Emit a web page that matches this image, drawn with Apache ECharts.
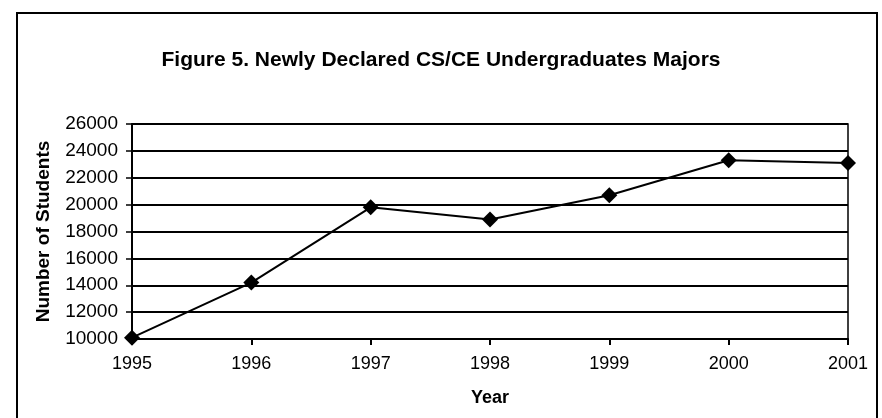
<!DOCTYPE html>
<html><head><meta charset="utf-8">
<script src="https://cdn.jsdelivr.net/npm/echarts@6/dist/echarts.min.js"></script>
<style>html,body{margin:0;padding:0;background:#fff}#c{width:882px;height:418px}</style>
</head><body><div id="c"></div>
<script>
const years = ['1995','1996','1997','1998','1999','2000','2001'];
const students = [10100, 14200, 19800, 18900, 20700, 23300, 23100];
const yMin = 10000, yMax = 26000, yStep = 2000;
const titleText = 'Figure 5. Newly Declared CS/CE Undergraduates Majors';
const font = '"Liberation Sans", Arial, sans-serif';
const chart = echarts.init(document.getElementById('c'));
chart.setOption({
  animation: false,
  backgroundColor: '#fff',
  title: {text: titleText, left: 'center', top: 45, textStyle: {fontFamily: font, fontSize: 21, fontWeight: 'bold', color: '#000'}},
  graphic: [{type: 'rect', shape: {x: 17, y: 13, width: 860, height: 430}, style: {fill: 'none', stroke: '#000', lineWidth: 2}}],
  grid: {left: 132, right: 34, top: 124, bottom: 79, show: true, borderColor: '#000', borderWidth: 1.5},
  xAxis: {type: 'category', data: years, boundaryGap: false,
    name: 'Year', nameLocation: 'middle', nameGap: 50,
    nameTextStyle: {fontFamily: font, fontSize: 18, fontWeight: 'bold', color: '#000'},
    axisLine: {lineStyle: {color: '#000', width: 2}},
    axisTick: {show: true, length: 6, lineStyle: {color: '#000', width: 2}},
    axisLabel: {fontFamily: font, fontSize: 18, color: '#000', margin: 16},
    splitLine: {show: false}},
  yAxis: {type: 'value', min: yMin, max: yMax, interval: yStep,
    name: 'Number of Students', nameLocation: 'middle', nameGap: 79,
    nameTextStyle: {fontFamily: font, fontSize: 19, fontWeight: 'bold', color: '#000'},
    axisLine: {show: true, lineStyle: {color: '#000', width: 2}},
    axisTick: {show: true, length: 6, lineStyle: {color: '#000', width: 1.5}},
    axisLabel: {fontFamily: font, fontSize: 19, color: '#000', margin: 14, formatter: v => String(v)},
    splitLine: {show: true, lineStyle: {color: '#000', width: 2}}},
  series: [{type: 'line', data: students, symbol: 'diamond', symbolSize: 16,
    lineStyle: {color: '#000', width: 2}, itemStyle: {color: '#000'}}]
});
</script></body></html>
